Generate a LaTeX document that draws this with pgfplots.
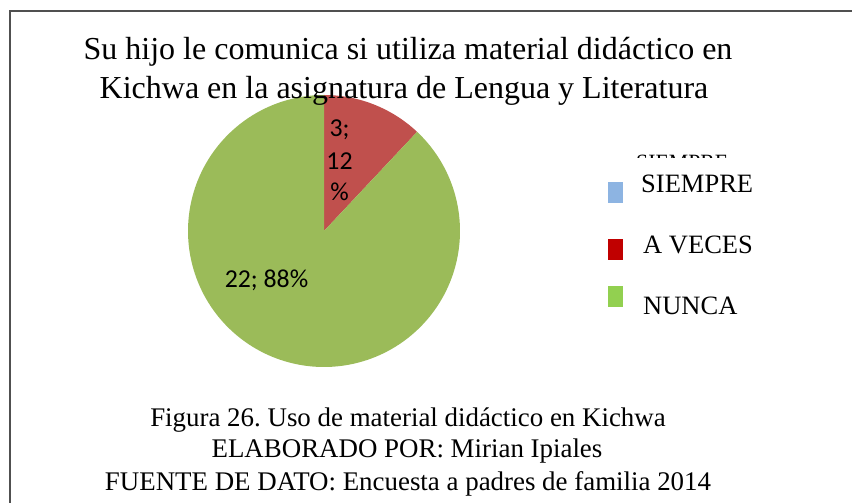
\documentclass[border=0pt]{standalone}
\usepackage{pgfplots}
\pgfplotsset{compat=1.18}
\usepackage{fontspec}
\setmainfont{Liberation Serif}
\newfontfamily\calibri{Carlito}
\definecolor{pieRed}{HTML}{C0504D}
\definecolor{pieGreen}{HTML}{9BBB59}
\definecolor{legBlue}{HTML}{8DB4E2}
\definecolor{legRed}{HTML}{C00000}
\definecolor{legGreen}{HTML}{92D050}
\definecolor{frame}{HTML}{505050}
\frenchspacing
% data: SIEMPRE, A VECES, NUNCA
\def\vSiempre{0}
\def\vAveces{3}
\def\vNunca{22}
\begin{document}
\begin{tikzpicture}
\useasboundingbox (0,0) rectangle (852bp,503bp);
\pgfmathsetmacro{\total}{\vSiempre+\vAveces+\vNunca}
\pgfmathsetmacro{\aS}{90-360*\vSiempre/\total}
\pgfmathsetmacro{\aA}{\aS-360*\vAveces/\total}
\pgfmathsetmacro{\aN}{\aA-360*\vNunca/\total}
\begin{axis}[at={(0,0)}, anchor=south west, scale only axis,
  width=852bp, height=503bp, xmin=0, xmax=852, ymin=0, ymax=503,
  hide axis, clip=false]
% frame
\draw[frame, line width=1.6bp] (axis cs:10,0) -- (axis cs:10,492) -- (axis cs:852,492);
% pie slices
\addplot[fill=pieRed, draw=none, domain=\aA:\aS, samples=40, variable=\t]
  ({324+136*cos(\t)},{272+136*sin(\t)}) -- (axis cs:324,272) -- cycle;
\addplot[fill=pieGreen, draw=none, domain=\aN:\aA, samples=200, variable=\t]
  ({324+136*cos(\t)},{272+136*sin(\t)}) -- (axis cs:324,272) -- cycle;
% title
\node[anchor=base, font=\fontsize{32bp}{38bp}\selectfont] at (axis cs:408,443) {Su hijo le comunica si utiliza material didáctico en};
\node[anchor=base, font=\fontsize{32bp}{38bp}\selectfont] at (axis cs:404,404) {Kichwa en la asignatura de Lengua y Literatura};
% data labels
\node[anchor=base, font=\calibri\fontsize{25.8bp}{30bp}\selectfont] at (axis cs:339.5,366) {3;};
\node[anchor=base, font=\calibri\fontsize{25.8bp}{30bp}\selectfont] at (axis cs:339.5,333) {12};
\node[anchor=base, font=\calibri\fontsize{25.8bp}{30bp}\selectfont] at (axis cs:339.5,302) {\%};
\node[anchor=base, font=\calibri\fontsize{25.8bp}{30bp}\selectfont] at (axis cs:266.5,215) {22; 88\%};
% clipped legend remnant
\begin{scope}
\clip (axis cs:630,345) rectangle (axis cs:735,349);
\node[anchor=base west, inner sep=0pt, font=\fontsize{21.8bp}{26bp}\selectfont] at (axis cs:636,333.6) {SIEMPRE};
\end{scope}
% legend
\fill[legBlue] (axis cs:608,300) rectangle (axis cs:623,321);
\fill[legRed] (axis cs:608,243) rectangle (axis cs:623,264);
\fill[legGreen] (axis cs:608,196) rectangle (axis cs:623,217);
\node[anchor=base west, inner sep=0pt, font=\fontsize{26.5bp}{30bp}\selectfont] at (axis cs:641,310) {SIEMPRE};
\node[anchor=base west, inner sep=0pt, font=\fontsize{26.5bp}{30bp}\selectfont] at (axis cs:643,249) {A VECES};
\node[anchor=base west, inner sep=0pt, font=\fontsize{26.5bp}{30bp}\selectfont] at (axis cs:643,188) {NUNCA};
% caption
\node[anchor=base, font=\fontsize{26.9bp}{31bp}\selectfont] at (axis cs:408,76) {Figura 26. Uso de material didáctico en Kichwa};
\node[anchor=base, font=\fontsize{26.9bp}{31bp}\selectfont] at (axis cs:407,45) {ELABORADO POR: Mirian Ipiales};
\node[anchor=base, font=\fontsize{26.9bp}{31bp}\selectfont] at (axis cs:408,13) {FUENTE DE DATO: Encuesta a padres de familia 2014};
\end{axis}
\end{tikzpicture}
\end{document}
